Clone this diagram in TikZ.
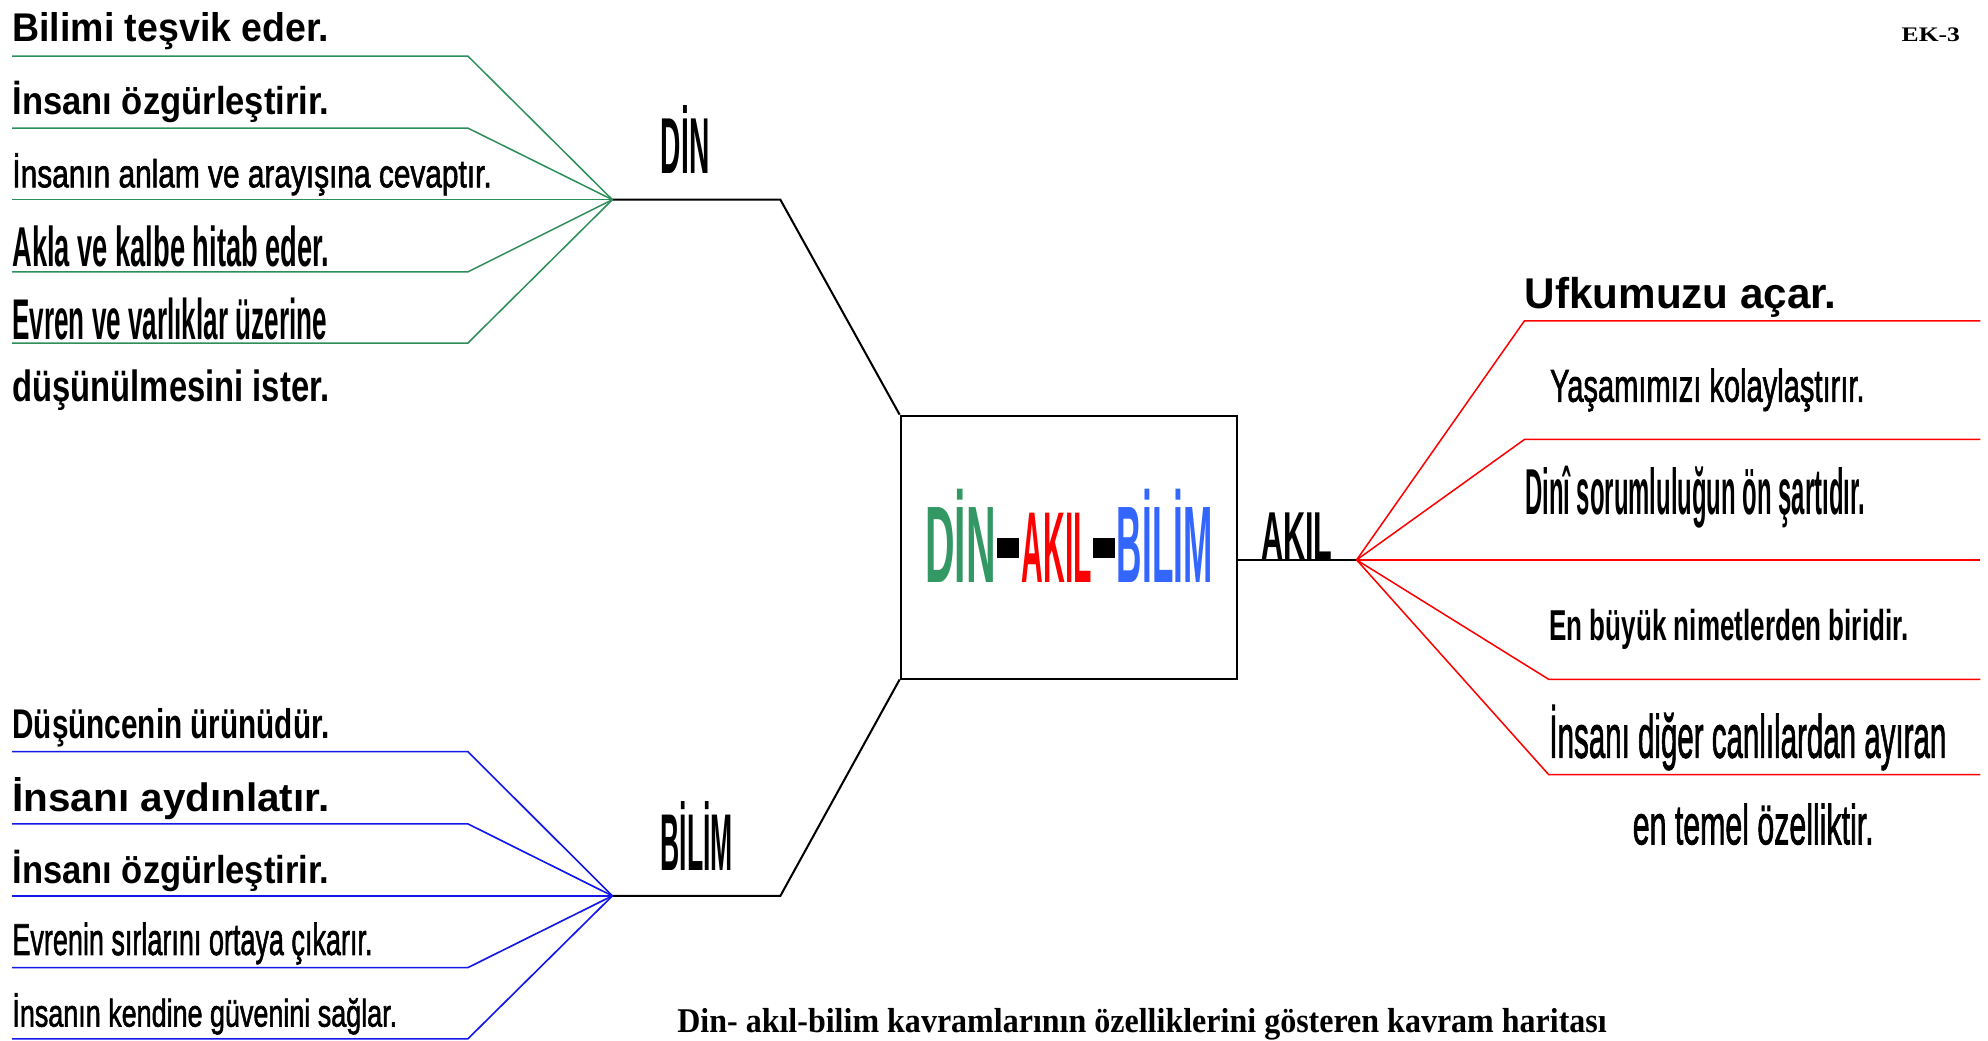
\documentclass[tikz,border=0pt]{standalone}
\usepackage{fontspec}
\setmainfont{Liberation Sans}
\newfontfamily\ortakalin[FakeBold=1.8]{Liberation Sans}
\newfontfamily\timesfont{Liberation Serif}
\usepackage{graphicx}

\definecolor{dinyesil}{RGB}{46,142,90}
\definecolor{baslikyesil}{RGB}{52,152,100}
\definecolor{bilimmavi}{RGB}{18,24,232}
\definecolor{baslikmavi}{RGB}{51,102,255}
\definecolor{akilkirmizi}{RGB}{255,0,0}

% text stretched to a given width and height (pt)
\newcommand{\sigdir}[3]{\resizebox{#1pt}{#2pt}{#3}}

\begin{document}
\begin{tikzpicture}[x=1pt, y=-1pt,
  madde/.style={anchor=base west, inner sep=0pt},
  anahat/.style={line width=1.6pt, black},
  dinhat/.style={line width=1.2pt, dinyesil},
  bilimhat/.style={line width=1.3pt, bilimmavi},
  akilhat/.style={line width=1.2pt, akilkirmizi}]
  \useasboundingbox (0,0) rectangle (1568,821);

  % ---- centre box ----
  \node[draw, line width=1.5pt, minimum width=265pt, minimum height=207.4pt, inner sep=0pt] (merkez) at (842.8,431.5) {};
  \node[madde] (ortadin) at (729.5,459.5) {\bfseries\color{baslikyesil}\sigdir{55.7}{73.6}{DİN}};
  \node[madde] (ortaakil) at (805.7,459.5) {\bfseries\color{akilkirmizi}\sigdir{55.3}{54.7}{AKIL}};
  \node[madde] (ortabilim) at (880.7,459.5) {\bfseries\color{baslikmavi}\sigdir{75.4}{73.6}{BİLİM}};
  \fill (786.5,424.6) rectangle (803.6,440.3);
  \fill (862.3,424.6) rectangle (879.4,440.3);

  % ---- DİN branch (green) ----
  \coordinate (dinkok) at (483,157.5);
  \coordinate (dindirsek) at (615.5,157.5);
  \draw[anahat] (dinkok) -- (dindirsek) -- (merkez.north west);
  \node[madde] (dinbaslik) at (521,137.2) {\bfseries\sigdir{38.3}{53.6}{DİN}};
  \foreach \i/\y in {1/44.2, 2/101, 3/157.5, 4/214.5, 5/270.6} {
    \coordinate (dinuc\i) at (9.6,\y);
    \coordinate (dindiz\i) at (369,\y);
    \draw[dinhat] (dinuc\i) -- (dindiz\i) -- (dinkok);
  }
  \foreach \i/\by/\w/\h/\f/\t in {
    1/32.9/250/22.9/\bfseries/{Bilimi teşvik eder.},
    2/90.7/250/26.3/\bfseries/{İnsanı özgürleştirir.},
    3/147.7/378/26.8/\ortakalin/{İnsanın anlam ve arayışına cevaptır.},
    4/210.3/250/32.1/\bfseries/{Akla ve kalbe hitab eder.},
    5/267.6/248/32.8/\bfseries/{Evren ve varlıklar üzerine},
    6/316.8/250/25/\bfseries/{düşünülmesini ister.}} {
    \node[madde] (dinmadde\i) at (9.6,\by) {\f\sigdir{\w}{\h}{\t}};
  }

  % ---- BİLİM branch (blue) ----
  \coordinate (bilimkok) at (483,706.6);
  \coordinate (bilimdirsek) at (615.5,706.6);
  \draw[anahat] (bilimkok) -- (bilimdirsek) -- (merkez.south west);
  \node[madde] (bilimbaslik) at (521,686.7) {\bfseries\sigdir{57}{54.4}{BİLİM}};
  \foreach \i/\y in {1/592.8, 2/649.8, 3/706.6, 4/763.2, 5/819.4} {
    \coordinate (bilimuc\i) at (9.6,\y);
    \coordinate (bilimdiz\i) at (369,\y);
    \draw[bilimhat] (bilimuc\i) -- (bilimdiz\i) -- (bilimkok);
  }
  \foreach \i/\by/\w/\h/\f/\t in {
    1/582.3/250/23.7/\bfseries/{Düşüncenin ürünüdür.},
    2/640.1/250/26.8/\bfseries/{İnsanı aydınlatır.},
    3/696.6/250/26.3/\bfseries/{İnsanı özgürleştirir.},
    4/753.2/284/25.5/\ortakalin/{Evrenin sırlarını ortaya çıkarır.},
    5/809.7/303.5/26.3/\ortakalin/{İnsanın kendine güvenini sağlar.}} {
    \node[madde] (bilimmadde\i) at (9.6,\by) {\f\sigdir{\w}{\h}{\t}};
  }

  % ---- AKIL branch (red) ----
  \coordinate (akilkok) at (1070,441.6);
  \draw[anahat, line width=1.3pt] (merkez.east |- akilkok) -- (akilkok);
  \node[madde] (akilbaslik) at (994.5,441.6) {\bfseries\sigdir{56.2}{36.8}{AKIL}};
  \foreach \i/\x/\y in {1/1202.4/253, 2/1202.4/346.6, 3/1070/441.6, 4/1221.5/535.8, 5/1221.5/611} {
    \coordinate (akildiz\i) at (\x,\y);
    \coordinate (akiluc\i) at (1562,\y);
    \draw[akilhat] (akilkok) -- (akildiz\i) -- (akiluc\i);
  }
  \foreach \i/\x/\by/\w/\h/\f/\t in {
    1/1202.4/243/246/24.6/\bfseries/{Ufkumuzu açar.},
    2/1222.4/316.8/248/26.2/\ortakalin/{Yaşamımızı kolaylaştırır.},
    3/1202.7/405.6/268/38.2/\bfseries/{Dinî sorumluluğun ön şartıdır.},
    4/1221.9/504.9/283/24.7/\bfseries/{En büyük nimetlerden biridir.},
    5/1221.9/597.6/313/41.5/\ortakalin/{İnsanı diğer canlılardan ayıran},
    6/1287.6/665.9/190/32.1/\ortakalin/{en temel özelliktir.}} {
    \node[madde] (akilmadde\i) at (\x,\by) {\f\sigdir{\w}{\h}{\t}};
  }

  % ---- header and caption ----
  \node[madde] (ek) at (1499.7,32.9) {\timesfont\bfseries\sigdir{46}{10.8}{EK-3}};
  \node[madde] (altyazi) at (534,814) {\timesfont\bfseries\sigdir{733}{19}{Din- akıl-bilim kavramlarının özelliklerini gösteren kavram haritası}};
\end{tikzpicture}
\end{document}
